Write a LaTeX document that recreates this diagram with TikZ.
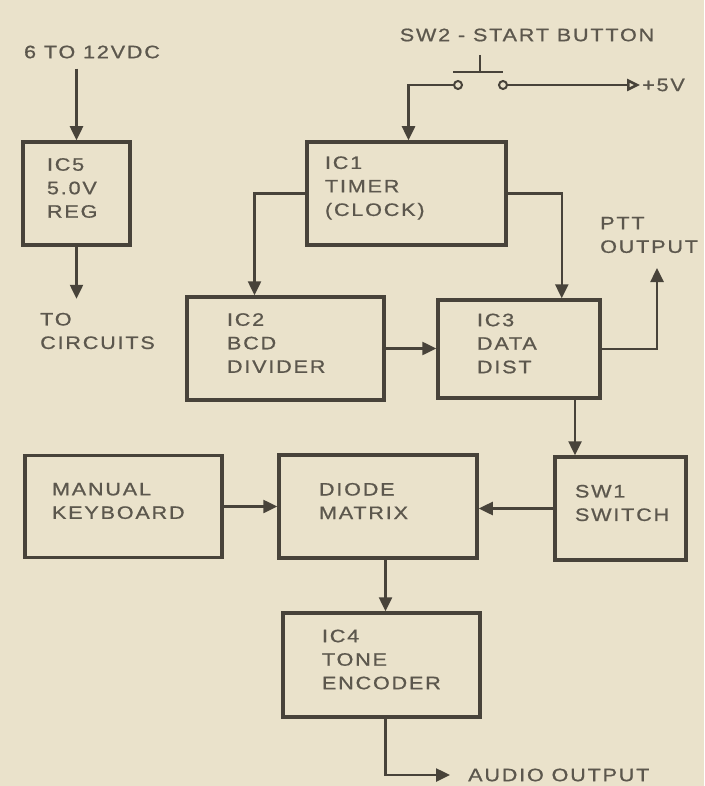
\documentclass[tikz,border=0pt]{standalone}
\usepackage{fontspec}
\setmainfont{Liberation Sans}[FakeStretch=1.2,LetterSpace=10,FakeBold=0.8]
\usetikzlibrary{arrows.meta}

\newcommand\diafont{\fontsize{18}{23.5}\selectfont}
\tikzset{
  blk/.style n args={3}{draw=cink,line width=3.5pt,text=ctext,font=\diafont,
    align=left,inner ysep=0pt,minimum width=#1,minimum height=#2,
    inner xsep=#3,text width=#1-2*#3,execute at end node={\par\kern11pt}},
  txt/.style={text=ctext,font=\diafont,align=left,inner sep=2pt},
  wire/.style={draw=cink,line width=2.5pt},
  fwd/.style={wire,-{Triangle[length=14pt,width=13pt]}},
  contact/.style={circle,draw=cink,line width=2pt,fill=cpaper,inner sep=0pt,minimum size=8pt},
}

\begin{document}
\begin{tikzpicture}[x=1pt,y=-1pt]
\definecolor{cpaper}{RGB}{234,226,203}
\definecolor{cink}{RGB}{72,67,58}
\definecolor{ctext}{RGB}{92,87,77}
\fill[cpaper] (0,0) rectangle (704,786);
\useasboundingbox (0,0) rectangle (704,786);
% regulator
\node[txt] (vin) at (92,52) {6 TO 12VDC};
\node[blk={107}{103}{24}] (ic5) at (76.5,193.5) {IC5\\5.0V\\REG};
\node[txt,anchor=west] (tocirc) at (38,331) {TO\\CIRCUITS};
\draw[fwd] ([yshift=-8]vin.south -| ic5.north) -- (ic5.north);
\draw[fwd] (ic5.south) -- ++(0,52);
% start button
\node[txt] (swlbl) at (527,35) {SW2 - START BUTTON};
\node[contact] (swa) at (458,85) {};
\node[contact] (swb) at (503,85) {};
\draw[wire] (453,72) -- (503,72) (480,55) -- (480,72);
\coordinate (vcc) at (640,85);
\node[txt,anchor=west] (vcclbl) at (vcc) {+5V};
\draw[wire,-{Triangle[open,length=13pt,width=12pt]}] (swb) -- (vcc);
\node[blk={199}{103}{18}] (ic1) at (406.5,193.5) {IC1\\TIMER\\(CLOCK)};
\draw[fwd] (swa) -| ([xshift=2]ic1.north);
% counter and distributor
\node[blk={197}{103}{40}] (ic2) at (285.5,348.5) {IC2\\BCD\\DIVIDER};
\node[blk={162}{98}{39}] (ic3) at (519,349) {IC3\\DATA\\DIST};
\draw[fwd] (ic1.west) -| ([xshift=-31]ic2.north);
\draw[fwd] (ic1.east) -| ([xshift=-40]ic3.north east);
\draw[fwd] (ic2.east) -- (ic2.east -| ic3.west);
\node[txt,anchor=west] (pttlbl) at (598,235) {PTT\\OUTPUT};
\coordinate (ptt) at (657,268);
\draw[fwd] (ic3.east) -| (ptt);
% matrix row
\node[blk={131}{103}{20}] (sw1) at (620.5,508.5) {SW1\\SWITCH};
\node[blk={198}{103}{40}] (dm) at (378,506.5) {DIODE\\MATRIX};
\node[blk={197}{102}{27}] (mk) at (123.5,506.5) {MANUAL\\KEYBOARD};
\draw[fwd] ([xshift=56]ic3.south) -- ([xshift=56]ic3.south |- sw1.north);
\draw[fwd] (sw1.west) -- (sw1.west -| dm.east);
\draw[fwd] (mk.east) -- (dm.west);
% encoder
\node[blk={197}{104}{39}] (ic4) at (381.5,665) {IC4\\TONE\\ENCODER};
\draw[fwd] ([xshift=4]ic4.north |- dm.south) -- ([xshift=4]ic4.north);
\coordinate (aud) at (450,775);
\node[txt,anchor=west] (audlbl) at (466,775) {AUDIO OUTPUT};
\draw[fwd] ([xshift=4]ic4.south) |- (aud);
\end{tikzpicture}
\end{document}
